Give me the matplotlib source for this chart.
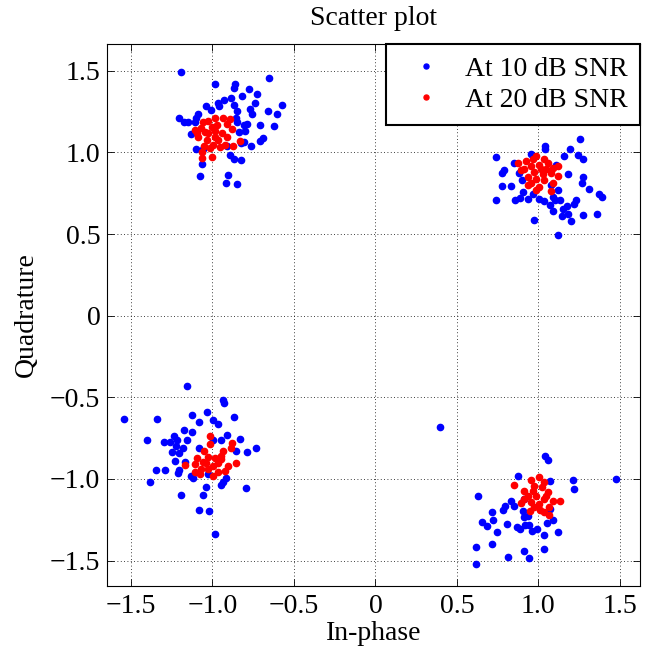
import matplotlib
matplotlib.use("Agg")
import matplotlib.pyplot as plt

plt.rcParams['font.family'] = ['Liberation Serif', 'DejaVu Serif']
plt.rcParams['mathtext.fontset'] = 'stix'

# ---- data (in-phase, quadrature) ----
snr10_i = [
    # cluster (-1, 1)
    -1.194, -0.651, -0.984, -0.861, -0.867, -0.776, -0.727, -0.820, -0.884, -0.931,
    -0.963, -0.739, -0.867, -0.959, -1.037, -1.010, -0.769, -0.657, -0.571, -0.602,
    -0.759, -0.851, -1.204, -1.086, -1.173, -1.151, -1.100, -1.106, -0.706, -0.622,
    -0.855, -0.847, -0.788, -0.806, -0.837, -0.800, -1.131, -0.692, -0.706, -0.824,
    -0.804, -0.765, -1.098, -1.055, -0.890, -0.865, -0.824, -1.063, -1.073, -0.906,
    -0.918, -0.849, -0.912,
    # cluster (1, 1)
    1.257, 1.043, 1.043, 1.196, 0.743, 0.955, 1.155, 1.241, 1.276, 0.853,
    1.108, 0.792, 0.778, 0.884, 1.184, 0.898, 1.276, 1.265, 0.778, 0.829,
    1.122, 1.312, 0.904, 0.965, 1.369, 1.388, 0.739, 0.857, 0.890, 0.935,
    1.002, 1.033, 1.088, 1.104, 1.135, 1.231, 1.220, 1.071, 1.176, 1.153,
    1.088, 1.180, 1.145, 1.271, 1.359, 0.976, 1.200, 1.122, 1.078,
    # cluster (-1, -1)
    -1.157, -0.935, -0.931, -1.543, -1.341, -1.035, -1.127, -0.867, -0.998, -1.082,
    -0.965, -1.173, -1.122, -1.157, -1.404, -1.235, -1.220, -1.298, -1.261, -0.912,
    -0.945, -0.831, -0.994, -1.224, -1.180, -1.084, -1.245, -1.204, -0.733, -0.786,
    -0.853, -1.231, -1.169, -1.347, -1.288, -1.206, -1.214, -1.133, -1.118, -0.918,
    -0.935, -1.384, -0.949, -1.037, -0.792, -1.194, -1.059, -1.084, -1.022, -0.986,
    -1.027,
    # cluster (1, -1)
    1.041, 1.059, 0.873, 1.069, 1.210, 1.476, 1.216, 0.629, 0.833, 0.796,
    0.786, 0.853, 0.914, 0.714, 0.904, 0.914, 0.935, 0.724, 0.655, 0.682,
    0.808, 0.747, 0.869, 0.888, 0.918, 0.941, 0.961, 0.992, 1.053, 1.088,
    1.035, 1.122, 1.073, 0.616, 0.714, 0.812, 0.910, 0.945, 1.035, 0.620,
    0.394,
]
snr10_q = [
    1.495, 1.454, 1.419, 1.419, 1.397, 1.389, 1.358, 1.346, 1.331, 1.323,
    1.305, 1.305, 1.294, 1.282, 1.286, 1.260, 1.264, 1.256, 1.288, 1.237,
    1.233, 1.256, 1.213, 1.233, 1.184, 1.184, 1.213, 1.184, 1.168, 1.164,
    1.209, 1.184, 1.172, 1.168, 1.127, 1.131, 1.115, 1.090, 1.070, 1.061,
    1.065, 1.037, 1.020, 1.024, 0.984, 0.959, 0.953, 0.928, 0.857, 0.863,
    0.810, 0.806, 1.041,
    1.080, 1.041, 1.020, 1.024, 0.973, 0.988, 0.977, 0.982, 0.961, 0.937,
    0.926, 0.892, 0.875, 0.875, 0.867, 0.830, 0.851, 0.810, 0.793, 0.793,
    0.769, 0.777, 0.757, 0.748, 0.748, 0.728, 0.706, 0.708, 0.722, 0.714,
    0.714, 0.701, 0.728, 0.708, 0.708, 0.708, 0.683, 0.677, 0.671, 0.656,
    0.640, 0.626, 0.609, 0.616, 0.622, 0.589, 0.581, 0.497, 0.800,
    -0.431, -0.519, -0.534, -0.632, -0.632, -0.587, -0.607, -0.622, -0.638, -0.652,
    -0.663, -0.699, -0.710, -0.759, -0.759, -0.740, -0.761, -0.775, -0.771, -0.734,
    -0.759, -0.755, -0.761, -0.800, -0.812, -0.812, -0.836, -0.840, -0.812, -0.836,
    -0.826, -0.888, -0.894, -0.947, -0.947, -0.943, -0.965, -0.980, -0.996, -0.996,
    -1.016, -1.016, -1.037, -1.051, -1.053, -1.096, -1.096, -1.192, -1.196, -1.337,
    -0.969,
    -0.857, -0.883, -0.984, -1.010, -1.006, -1.000, -1.061, -1.106, -1.133, -1.168,
    -1.190, -1.166, -1.123, -1.204, -1.198, -1.235, -1.225, -1.254, -1.262, -1.290,
    -1.278, -1.325, -1.297, -1.307, -1.282, -1.280, -1.321, -1.309, -1.272, -1.249,
    -1.342, -1.323, -1.184, -1.419, -1.401, -1.476, -1.440, -1.487, -1.429, -1.519,
    -0.685,
]

snr20_i = [
    -0.937, -0.892, -0.984, -1.024, -1.059, -0.908, -1.106, -1.069, -0.882, -1.086,
    -0.908, -0.831, -0.876, -1.051, -1.004, -1.061, -1.065, -1.035, -0.984, -0.963,
    -0.994, -1.024, -0.943, -0.973, -1.004, -1.045, -0.953, -0.922, -1.092, -1.014,
    -0.984,
    0.986, 0.965, 1.037, 0.873, 0.924, 1.122, 1.088, 0.914, 0.955, 1.006,
    1.047, 0.976, 1.027, 1.078, 0.935, 1.122, 0.986, 1.037, 0.955, 1.088,
    0.935, 1.006, 0.986, 1.078, 0.894, 1.016, 1.057,
    -1.012, -1.016, -0.880, -0.888, -0.935, -1.051, -1.092, -1.165, -0.853, -0.904,
    -1.104, -1.108, -1.057, -1.027, -0.986, -0.945, -0.996, -0.965, -1.027, -1.067,
    -0.924, -1.078, -0.996, -0.945, -1.037, -0.965,
    0.849, 0.955, 1.006, 1.037, 0.910, 0.976, 1.057, 1.020, 0.935, 0.986,
    1.037, 1.088, 1.133, 0.894, 0.955, 1.006, 1.067, 0.949, 1.012, 1.037,
    1.067, 0.976, 0.914, 0.965, 1.047,
]
snr20_q = [
    1.213, 1.204, 1.209, 1.192, 1.188, 1.172, 1.137, 1.147, 1.141, 1.096,
    1.096, 1.070, 1.039, 1.041, 0.975, 0.969, 1.004, 1.074, 1.131, 1.076,
    1.045, 1.117, 1.117, 1.168, 1.157, 1.127, 1.035, 1.045, 1.117, 1.025,
    1.096,
    0.977, 0.963, 0.963, 0.937, 0.949, 0.916, 0.908, 0.896, 0.916, 0.922,
    0.896, 0.881, 0.871, 0.875, 0.851, 0.855, 0.840, 0.830, 0.810, 0.810,
    0.803, 0.789, 0.769, 0.765, 0.892, 0.896, 0.933,
    -0.738, -0.785, -0.779, -0.812, -0.832, -0.832, -0.873, -0.914, -0.902, -0.922,
    -0.908, -0.955, -0.894, -0.867, -0.873, -0.881, -0.918, -0.959, -0.939, -0.939,
    -0.949, -0.969, -0.980, -0.857, -0.902, -0.902,
    -1.037, -1.006, -0.990, -1.020, -1.072, -1.041, -1.082, -1.051, -1.102, -1.102,
    -1.123, -1.133, -1.133, -1.149, -1.143, -1.153, -1.170, -1.194, -1.190, -1.204,
    -1.219, -1.174, -1.123, -1.076, -1.102,
]

ticks = [-1.5, -1.0, -0.5, 0, 0.5, 1.0, 1.5]
tick_labels = ['\u22121.5', '\u22121.0', '\u22120.5', '0', '0.5', '1.0', '1.5']

FS = 20

fig = plt.figure(figsize=(6.5, 6.56), dpi=100)
ax = fig.add_axes([0.165, 0.107, 0.820, 0.826])

ax.plot(snr10_i, snr10_q, '.', color=(0, 0, 1), markersize=9, label='At 10 dB SNR', linestyle='none')
ax.plot(snr20_i, snr20_q, '.', color=(1, 0, 0), markersize=9, label='At 20 dB SNR', linestyle='none')

ax.set_xlim(-1.645, 1.625)
ax.set_ylim(-1.655, 1.665)
ax.set_xticks(ticks)
ax.set_xticklabels(tick_labels)
ax.set_yticks(ticks)
ax.set_yticklabels(tick_labels)

ax.grid(True, linestyle=(0, (1, 3)), color='black', linewidth=0.6)
ax.tick_params(direction='in', top=True, right=True, length=5, width=0.6, labelsize=FS, colors='black')
ax.tick_params(axis='y', pad=5)
ax.tick_params(axis='x', pad=6)
for sp in ax.spines.values():
    sp.set_linewidth(0.8)
    sp.set_color('black')

ax.set_title('Scatter plot', fontsize=FS, pad=14)
ax.set_xlabel('In-phase', fontsize=FS, labelpad=1)
ax.set_ylabel('Quadrature', fontsize=FS, labelpad=8)

leg = ax.legend(loc='upper right', bbox_to_anchor=(1.0, 1.0), borderaxespad=0.0,
                fancybox=False, framealpha=1, edgecolor='black', fontsize=FS,
                handlelength=2.0, handletextpad=0.4, borderpad=0.45, labelspacing=0.2,
                markerscale=0.8)
leg.get_frame().set_linewidth(1.5)

fig.savefig('out.png', dpi=100)
